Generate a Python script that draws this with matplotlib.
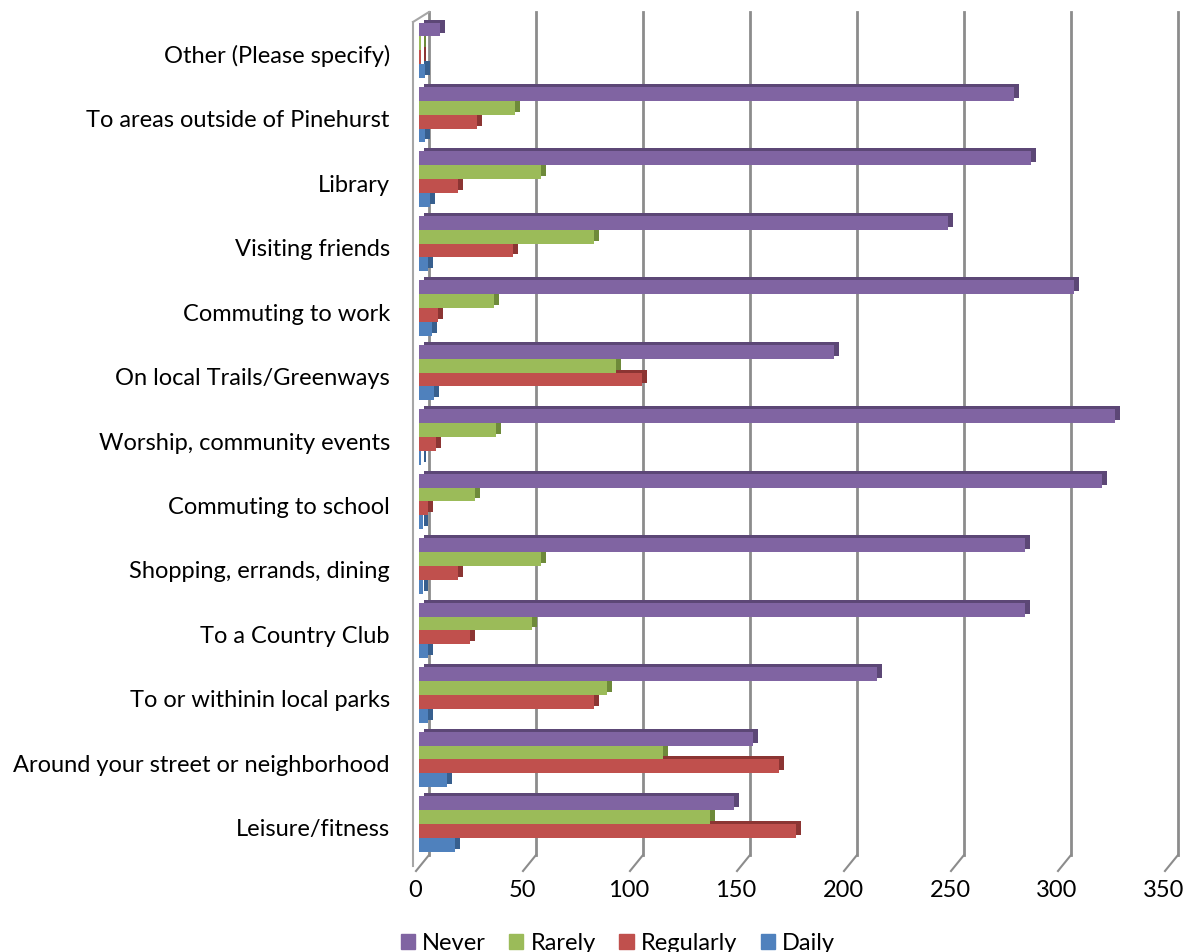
import numpy as np
import matplotlib
matplotlib.use("Agg")
import matplotlib.pyplot as plt
import matplotlib.transforms as mtransforms
from matplotlib.patches import Patch

# Categories from bottom to top
categories = [
    "Leisure/fitness",
    "Around your street or neighborhood",
    "To or withinin local parks",
    "To a Country Club",
    "Shopping, errands, dining",
    "Commuting to school",
    "Worship, community events",
    "On local Trails/Greenways",
    "Commuting to work",
    "Visiting friends",
    "Library",
    "To areas outside of Pinehurst",
    "Other (Please specify)",
]

never = [147, 156, 214, 283, 283, 319, 325, 194, 306, 247, 286, 278, 10]
rarely = [136, 114, 88, 53, 57, 26, 36, 92, 35, 82, 57, 45, 1]
regularly = [176, 168, 82, 24, 18, 4, 8, 104, 9, 44, 18, 27, 1]
daily = [17, 13, 4, 4, 2, 2, 1, 7, 6, 4, 5, 3, 3]

series = [
    ("Never", never, "#8064A2", "#5C4776"),
    ("Rarely", rarely, "#9BBB59", "#6E8A3A"),
    ("Regularly", regularly, "#C0504D", "#8C3533"),
    ("Daily", daily, "#4F81BD", "#375F8E"),
]

plt.rcParams["font.family"] = ["Lato", "DejaVu Sans"]

W, H = 1188, 952
fig = plt.figure(figsize=(W / 100, H / 100), dpi=100)
x0_px, x350_px = 419, 1168
ax = fig.add_axes([x0_px / W, 1 - 858 / H, (x350_px - x0_px) / W, 840 / H])

y = np.arange(len(categories))
h = 0.215
offsets = [1.5 * h, 0.5 * h, -0.5 * h, -1.5 * h]
ticks = np.arange(0, 351, 50)

ax.set_xlim(0, 350)
ax.set_ylim(-0.53, 12.5)

# faux 3D depth for the bars
depth = mtransforms.ScaledTranslation(5 / 100, 3 / 100, fig.dpi_scale_trans)

for (name, vals, col, dark), off in zip(series, offsets):
    ax.barh(y + off, vals, height=h, color=dark, transform=ax.transData + depth, zorder=2)
    ax.barh(y + off, vals, height=h, color=col, zorder=3)


# helper: pixel coords (from top-left) -> figure fraction
def px(xp, yp):
    return xp / W, 1 - yp / H


grid_col = "#8C8C8C"
for t in ticks:
    xb = ax.transData.transform((t, 0))[0] + 10
    (a1, b1), (a2, b2) = px(xb, 12), px(xb, 855)
    fig.add_artist(plt.Line2D([a1, a2], [b1, b2], color=grid_col, lw=2, zorder=0))
    (a3, b3) = px(xb - 13, 871)
    fig.add_artist(plt.Line2D([a2, a3], [b2, b3], color=grid_col, lw=1.5, zorder=0))

# left wall
wall = "#A6A6A6"
for pts in ([(413, 22), (413, 866)], [(413, 22), (429, 12)]):
    (a1, b1), (a2, b2) = px(*pts[0]), px(*pts[1])
    fig.add_artist(plt.Line2D([a1, a2], [b1, b2], color=wall, lw=1.5, zorder=0))

ax.set_yticks(y)
ax.set_yticklabels(categories, fontsize=17)
ax.set_xticks(ticks)
ax.set_xticklabels([str(t) for t in ticks], fontsize=17)
ax.tick_params(axis="both", length=0)
ax.tick_params(axis="y", pad=21)
ax.tick_params(axis="x", pad=16)
ax.set_facecolor("none")
for s in ax.spines.values():
    s.set_visible(False)
for lab in ax.get_yticklabels():
    lab.set_transform(lab.get_transform() +
                      mtransforms.ScaledTranslation(0, -4 / 100, fig.dpi_scale_trans))
for lab in ax.get_xticklabels():
    lab.set_transform(lab.get_transform() +
                      mtransforms.ScaledTranslation(-4 / 100, 0, fig.dpi_scale_trans))

handles = [Patch(color=c, label=n) for n, _, c, _ in series]
fig.legend(handles=handles, loc="lower center", bbox_to_anchor=(0.52, -0.024), ncol=4,
           frameon=False, fontsize=17, handlelength=0.6, handleheight=0.6,
           handletextpad=0.3, columnspacing=1.0)

fig.savefig("out.png", dpi=100)
